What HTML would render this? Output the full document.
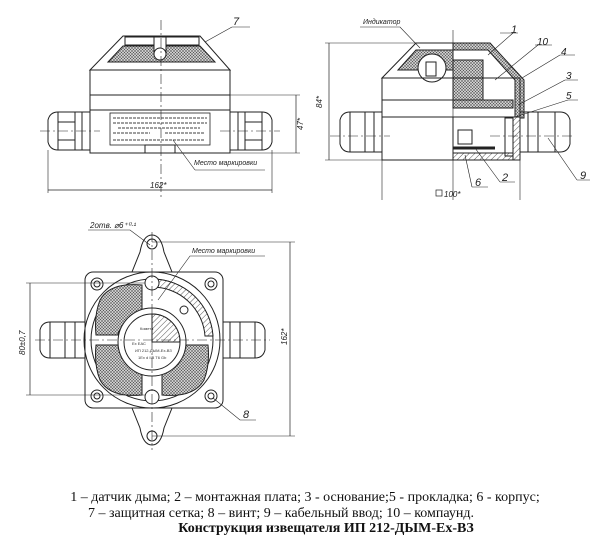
<!DOCTYPE html>
<html><head><meta charset="utf-8"><style>
html,body{margin:0;padding:0;background:#fff;}
svg{display:block}
.t{font-family:"Liberation Serif","Noto Serif CJK SC",serif;font-size:14px;fill:#111}
.i{font-family:"Liberation Sans",sans-serif;font-style:italic;font-size:8px;fill:#222}
</style></head><body>
<svg width="600" height="556" viewBox="0 0 600 556" xmlns="http://www.w3.org/2000/svg">
<defs>
<pattern id="x" width="3" height="3" patternUnits="userSpaceOnUse"><rect width="3" height="3" fill="#ccc"/><path d="M0 0L3 3M3 0L0 3" stroke="#555" stroke-width="0.5"/></pattern>
<pattern id="h" width="4" height="4" patternUnits="userSpaceOnUse" patternTransform="rotate(45)"><rect width="4" height="4" fill="#fff"/><line x1="0" y1="0" x2="0" y2="4" stroke="#444" stroke-width="0.9"/></pattern>
</defs>
<g fill="none" stroke="#222" stroke-width="1">
<!-- TOP LEFT VIEW -->
<path d="M123 36H200L230 70H90Z" fill="#fff"/>
<path d="M108 62L123 46H200L215 62Z" fill="url(#x)"/>
<rect x="125" y="37" width="33" height="8"/><rect x="166" y="37" width="33" height="8"/>
<rect x="154" y="37" width="12" height="16" fill="#fff"/><circle cx="160" cy="54" r="6" fill="#fff"/>
<rect x="90" y="70" width="140" height="83" fill="#fff"/>
<line x1="90" y1="95" x2="230" y2="95"/><line x1="90" y1="110" x2="230" y2="110"/>
<rect x="110" y="113" width="100" height="32" stroke-width="0.8"/>
<g stroke="#666" stroke-width="1.3" stroke-dasharray="3 1">
<line x1="113" y1="118" x2="207" y2="118"/><line x1="113" y1="123" x2="207" y2="123"/><line x1="118" y1="128" x2="200" y2="128"/>
<line x1="113" y1="133" x2="150" y2="133"/><line x1="165" y1="133" x2="205" y2="133"/><line x1="113" y1="140" x2="205" y2="140"/></g>
<rect x="145" y="145" width="30" height="8"/>
<path d="M48 120Q50 112 58 112H82V150H58Q50 150 48 142Z" fill="#fff"/>
<rect x="82" y="112" width="8" height="38"/><line x1="58" y1="112" x2="58" y2="150"/><line x1="75" y1="112" x2="75" y2="150"/>
<line x1="58" y1="122" x2="75" y2="122"/><line x1="58" y1="140" x2="75" y2="140"/>
<path d="M272 120Q270 112 262 112H238V150H262Q270 150 272 142Z" fill="#fff"/>
<rect x="230" y="112" width="8" height="38"/><line x1="262" y1="112" x2="262" y2="150"/><line x1="245" y1="112" x2="245" y2="150"/>
<line x1="245" y1="122" x2="262" y2="122"/><line x1="245" y1="140" x2="262" y2="140"/>
<line x1="161" y1="20" x2="161" y2="200" stroke-dasharray="10 3 2 3" stroke-width="0.6"/>
<line x1="40" y1="131" x2="100" y2="131" stroke-dasharray="10 3 2 3" stroke-width="0.6"/>
<line x1="220" y1="131" x2="280" y2="131" stroke-dasharray="10 3 2 3" stroke-width="0.6"/>
<line x1="48" y1="150" x2="48" y2="193" stroke-width="0.6"/><line x1="272" y1="150" x2="272" y2="193" stroke-width="0.6"/>
<line x1="48" y1="190" x2="272" y2="190" stroke-width="0.7"/>
<line x1="230" y1="95" x2="300" y2="95" stroke-width="0.6"/><line x1="230" y1="153" x2="300" y2="153" stroke-width="0.6"/>
<line x1="296" y1="95" x2="296" y2="153" stroke-width="0.7"/>
<line x1="205" y1="42" x2="232" y2="27" stroke-width="0.6"/><line x1="232" y1="27" x2="250" y2="27" stroke-width="0.6"/>
<line x1="173" y1="140" x2="195" y2="170" stroke-width="0.6"/><line x1="195" y1="170" x2="265" y2="170" stroke-width="0.6"/>
<!-- TOP RIGHT VIEW -->
<path d="M416 43H490L520 78H382Z" fill="#fff"/>
<path d="M453 43H490L524 80V118H515V80L488 50H453Z" fill="url(#x)"/>
<rect x="453" y="60" width="30" height="40" fill="url(#x)"/>
<rect x="453" y="100" width="60" height="8" fill="url(#x)"/>
<path d="M398 70L416 50H453V70Z" fill="url(#x)"/>
<circle cx="432" cy="68" r="14" fill="#fff"/><rect x="426" y="62" width="10" height="14"/>
<rect x="382" y="78" width="138" height="82" fill="none"/>
<line x1="382" y1="100" x2="453" y2="100"/><line x1="382" y1="117" x2="520" y2="117"/>
<rect x="453" y="117" width="67" height="43" fill="none"/>
<rect x="453" y="153" width="67" height="7" fill="url(#h)"/>
<rect x="513" y="117" width="7" height="43" fill="url(#h)"/>
<line x1="453" y1="148" x2="495" y2="148" stroke-width="3"/>
<rect x="458" y="130" width="14" height="14"/>
<path d="M340 120Q342 112 350 112H374V152H350Q342 152 340 144Z" fill="#fff"/>
<rect x="374" y="112" width="8" height="40"/><line x1="350" y1="112" x2="350" y2="152"/><line x1="365" y1="112" x2="365" y2="152"/>
<rect x="505" y="118" width="8" height="38"/>
<path d="M570 120Q568 112 560 112H528V152H560Q568 152 570 144Z" fill="#fff"/>
<rect x="520" y="112" width="8" height="40"/><line x1="538" y1="112" x2="538" y2="152"/><line x1="555" y1="112" x2="555" y2="152"/>
<line x1="453" y1="30" x2="453" y2="200" stroke-width="0.6"/>
<line x1="330" y1="136" x2="390" y2="136" stroke-dasharray="10 3 2 3" stroke-width="0.6"/>
<line x1="490" y1="136" x2="575" y2="136" stroke-dasharray="10 3 2 3" stroke-width="0.6"/>
<line x1="382" y1="160" x2="382" y2="200" stroke-width="0.6"/><line x1="520" y1="160" x2="520" y2="200" stroke-width="0.6"/>
<line x1="325" y1="43" x2="416" y2="43" stroke-width="0.6"/><line x1="325" y1="160" x2="382" y2="160" stroke-width="0.6"/>
<line x1="329" y1="43" x2="329" y2="160" stroke-width="0.7"/>
<path d="M360 27H400L420 48" stroke-width="0.6"/>
<path d="M500 33H518M513 33L488 55" stroke-width="0.6"/>
<path d="M535 45H552M538 45L495 80" stroke-width="0.6"/>
<path d="M560 55H575M560 55L522 78" stroke-width="0.6"/>
<path d="M565 80H578M565 80L518 105" stroke-width="0.6"/>
<path d="M568 100H578M568 100L515 117" stroke-width="0.6"/>
<path d="M577 180H590M577 180L548 138" stroke-width="0.6"/>
<path d="M500 182H515M500 182L475 148" stroke-width="0.6"/>
<path d="M472 187H488M472 187L465 155" stroke-width="0.6"/>
<rect x="436" y="190" width="6" height="6" stroke-width="0.7"/>
<!-- BOTTOM VIEW -->
<path d="M140 252Q143 235 152 235Q161 235 164 252L172 272H132Z" fill="#fff"/>
<path d="M140 428Q143 445 152 445Q161 445 164 428L172 408H132Z" fill="#fff"/>
<circle cx="152" cy="244" r="5"/><circle cx="152" cy="436" r="5"/>
<rect x="85" y="272" width="138" height="136" rx="8" fill="#fff"/>
<circle cx="97" cy="284" r="6"/><circle cx="97" cy="284" r="3"/>
<circle cx="211" cy="284" r="6"/><circle cx="211" cy="284" r="3"/>
<circle cx="97" cy="396" r="6"/><circle cx="97" cy="396" r="3"/>
<circle cx="211" cy="396" r="6"/><circle cx="211" cy="396" r="3"/>
<circle cx="152" cy="340" r="68" fill="#fff"/>
<circle cx="152" cy="340" r="61"/>
<path d="M100 300Q110 282 142 285V320Q118 325 118 335H96Q94 315 100 300Z" fill="url(#x)"/>
<path d="M100 380Q110 398 142 395V360Q118 355 118 345H96Q94 365 100 380Z" fill="url(#x)"/>
<path d="M204 380Q194 398 162 395V360Q186 355 186 345H208Q210 365 204 380Z" fill="url(#x)"/>
<path d="M152 279A61 61 0 0 1 213 336H205A53 53 0 0 0 152 287Z" fill="url(#h)"/>
<circle cx="152" cy="342" r="34" fill="#fff"/>
<circle cx="152" cy="342" r="28"/>
<path d="M152 314A28 28 0 0 1 180 342H152Z" fill="url(#h)"/>
<circle cx="152" cy="283" r="7" fill="#fff"/><circle cx="152" cy="397" r="7" fill="#fff"/>
<circle cx="184" cy="310" r="4"/>
<path d="M40 330Q42 322 50 322H75V358H50Q42 358 40 350Z" fill="#fff"/>
<rect x="75" y="322" width="10" height="36"/><line x1="50" y1="322" x2="50" y2="358"/><line x1="65" y1="322" x2="65" y2="358"/>
<path d="M265 330Q263 322 255 322H230V358H255Q263 358 265 350Z" fill="#fff"/>
<rect x="223" y="322" width="7" height="36"/><line x1="255" y1="322" x2="255" y2="358"/><line x1="240" y1="322" x2="240" y2="358"/>
<line x1="152" y1="232" x2="152" y2="450" stroke-dasharray="10 3 2 3" stroke-width="0.6"/>
<line x1="35" y1="340" x2="270" y2="340" stroke-dasharray="10 3 2 3" stroke-width="0.6"/>
<line x1="26" y1="283" x2="145" y2="283" stroke-width="0.6"/><line x1="26" y1="395" x2="145" y2="395" stroke-width="0.6"/>
<line x1="30" y1="283" x2="30" y2="395" stroke-width="0.7"/>
<line x1="152" y1="242" x2="295" y2="242" stroke-width="0.6"/><line x1="152" y1="436" x2="295" y2="436" stroke-width="0.6"/>
<line x1="290" y1="242" x2="290" y2="436" stroke-width="0.7"/>
<path d="M88 230H130L150 245" stroke-width="0.6"/>
<path d="M265 256H190L158 300" stroke-width="0.6"/>
<path d="M256 420H240L213 398" stroke-width="0.6"/>
</g>
<g font-family="Liberation Sans,sans-serif" font-size="4" fill="#333">
<text x="140" y="330">Комета</text><text x="132" y="345">Ex ЕАС</text><text x="135" y="352">ИП 212-ДЫМ-Ех-ВЗ</text><text x="138" y="359">1Ex d IIB T6 Gb</text>
</g>
<g class="i">
<text x="233" y="25" font-size="11">7</text>
<text x="194" y="165" font-size="7">Место маркировки</text>
<text x="150" y="188" font-size="8">162*</text>
<text x="303" y="130" transform="rotate(-90 303 130)" font-size="8">47*</text>
<text x="363" y="24" font-size="7">Индикатор</text>
<text x="511" y="33" font-size="11">1</text>
<text x="537" y="45" font-size="10">10</text>
<text x="561" y="55" font-size="10">4</text>
<text x="566" y="79" font-size="10">3</text>
<text x="566" y="99" font-size="10">5</text>
<text x="580" y="179" font-size="11">9</text>
<text x="502" y="181" font-size="11">2</text>
<text x="475" y="186" font-size="11">6</text>
<text x="444" y="197" font-size="8">100*</text>
<text x="322" y="108" transform="rotate(-90 322 108)" font-size="8">84*</text>
<text x="90" y="228" font-size="8">2отв. ⌀6⁺⁰·¹</text>
<text x="192" y="253" font-size="7">Место маркировки</text>
<text x="243" y="418" font-size="11">8</text>
<text x="25" y="355" transform="rotate(-90 25 355)" font-size="8">80±0,7</text>
<text x="287" y="345" transform="rotate(-90 287 345)" font-size="8">162*</text>
</g>
<text class="t" x="305" y="501" text-anchor="middle">1 – датчик дыма; 2 – монтажная плата; 3 - основание;5 - прокладка;  6 - корпус;</text>
<text class="t" x="281" y="517" text-anchor="middle">7 – защитная сетка; 8 – винт; 9 – кабельный ввод; 10 – компаунд.</text>
<text class="t" x="326" y="532" text-anchor="middle" font-weight="bold">Конструкция извещателя ИП 212-ДЫМ-Ех-ВЗ</text>
</svg>
</body></html>
